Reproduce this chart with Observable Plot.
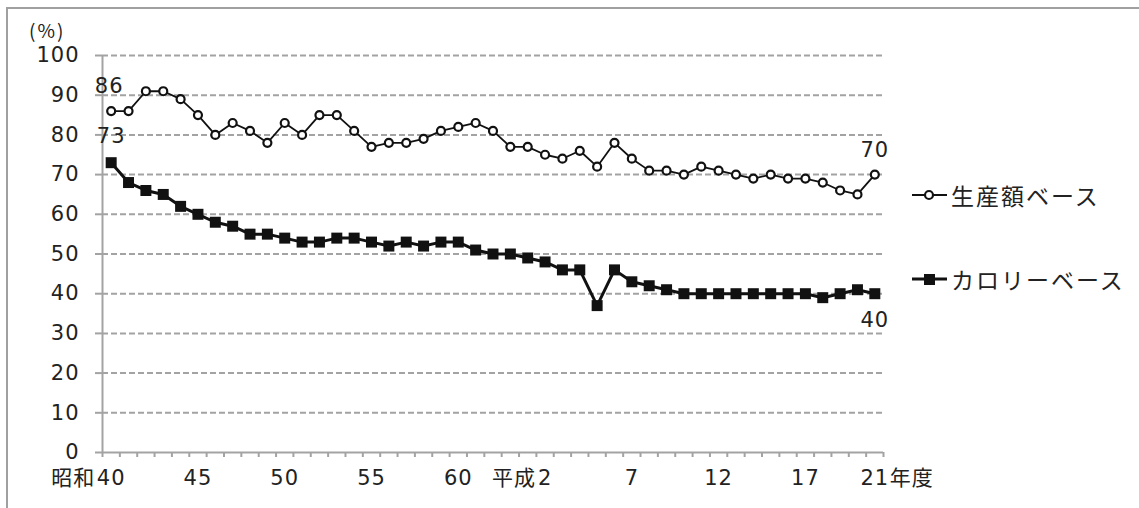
<!DOCTYPE html>
<html>
<head>
<meta charset="utf-8">
<script src="https://cdn.jsdelivr.net/npm/d3@7"></script>
<script src="https://cdn.jsdelivr.net/npm/@observablehq/plot@0.6"></script>
<style>
  html, body { margin: 0; padding: 0; background: #fff; overflow: hidden; }
  body { width: 1139px; height: 508px; position: relative; font-family: "DejaVu Sans", "Noto Sans CJK JP", sans-serif; color: #222; }
  #frame { position: absolute; left: 6px; top: 7px; width: 1200px; height: 600px; border: 2px solid #a0a0a0; }
  #chart { position: absolute; left: 0; top: 0; }
  #chart svg text { letter-spacing: 1px; }
  #unit { position: absolute; left: 29px; top: 16px; font-size: 19px; letter-spacing: 2px; font-family: "Noto Sans CJK JP", sans-serif; }
  .leg { position: absolute; font-size: 23px; letter-spacing: 2px; display: flex; align-items: center; white-space: nowrap; font-family: "Noto Sans CJK JP", sans-serif; }
  .leg svg { margin-right: 2px; }
</style>
</head>
<body>
<div id="frame"></div>
<div id="chart"></div>
<div id="unit">(%)</div>
<div class="leg" style="left:911px; top:178px;">
  <svg width="38" height="30"><line x1="1" x2="36" y1="15" y2="15" stroke="#111" stroke-width="2"/><circle cx="18" cy="15" r="4" fill="#fff" stroke="#111" stroke-width="2.2"/></svg><span>生産額ベース</span>
</div>
<div class="leg" style="left:911px; top:262px;">
  <svg width="38" height="30"><line x1="1" x2="36" y1="15" y2="15" stroke="#111" stroke-width="3"/><rect x="13" y="10" width="11" height="11" fill="#111"/></svg><span>カロリーベース</span>
</div>
<script>
// Fiscal years 昭和40 (1965) … 平成21 (2009)
const years = d3.range(1965, 2010);
const productionBase = [86,86,91,91,89,85,80,83,81,78,83,80,85,85,81,77,78,78,79,81,82,83,81,77,77,75,74,76,72,78,74,71,71,70,72,71,70,69,70,69,69,68,66,65,70];
const calorieBase    = [73,68,66,65,62,60,58,57,55,55,54,53,53,54,54,53,52,53,52,53,53,51,50,50,49,48,46,46,37,46,43,42,41,40,40,40,40,40,40,40,40,39,40,41,40];
const yTicks = [0,10,20,30,40,50,60,70,80,90,100];
const xLabelIdx    = [0, 5, 10, 15, 20, 25, 30, 35, 40, 44];
const xLabelNum    = ["40","45","50","55","60","2","7","12","17","21"];
const xLabelPrefix = ["昭和","","","","","平成","","","",""];
const xLabelSuffix = ["","","","","","","","","","年度"];

const prod = years.map((y, i) => ({i, v: productionBase[i]}));
const cal  = years.map((y, i) => ({i, v: calorieBase[i]}));
const xLab = xLabelIdx.map((idx, k) => ({i: idx, num: xLabelNum[k], pre: xLabelPrefix[k], suf: xLabelSuffix[k]}));
const first = 0, last = years.length - 1;

const grey = "#a3a3a3";
const fs = 21;
const cjk = '"Noto Sans CJK JP", sans-serif';
const lblDy = 32;

const chart = Plot.plot({
  width: 1139,
  height: 508,
  marginLeft: 102,
  marginRight: 256,
  marginTop: 55,
  marginBottom: 56,
  style: {fontFamily: '"DejaVu Sans", "Noto Sans CJK JP", sans-serif', background: "transparent", color: "#222"},
  x: {type: "linear", domain: [-0.5, 44.5]},
  y: {type: "linear", domain: [0, 100]},
  marks: [
    Plot.ruleY(yTicks.filter(d => d > 0), {stroke: grey, strokeWidth: 2, strokeDasharray: "6,3"}),
    Plot.axisY({ticks: yTicks, tickSize: 7, tickPadding: 16, stroke: grey, strokeWidth: 2, fill: "#222", fontSize: fs, label: null, tickFormat: d => String(d)}),
    Plot.axisX({ticks: d3.range(-0.5, 45, 1), tickSize: 5, stroke: grey, strokeWidth: 2, tickFormat: () => "", label: null}),
    Plot.ruleX([-0.5], {stroke: grey, strokeWidth: 2}),
    Plot.ruleY([0], {stroke: grey, strokeWidth: 2}),
    Plot.line(cal, {x: "i", y: "v", stroke: "#111", strokeWidth: 3}),
    Plot.dot(cal, {x: "i", y: "v", symbol: "square", r: 6.2, fill: "#111", stroke: "none"}),
    Plot.line(prod, {x: "i", y: "v", stroke: "#111", strokeWidth: 1.8}),
    Plot.dot(prod, {x: "i", y: "v", r: 4, fill: "#fff", stroke: "#111", strokeWidth: 2.2}),
    // end-point value labels
    Plot.text([prod[first]], {x: "i", y: "v", dx: -2, dy: -25, text: d => String(d.v), fontSize: fs, fill: "#222"}),
    Plot.text([cal[first]],  {x: "i", y: "v", dy: -26, text: d => String(d.v), fontSize: fs, fill: "#222"}),
    Plot.text([prod[last]],  {x: "i", y: "v", dy: -24, text: d => String(d.v), fontSize: fs, fill: "#222"}),
    Plot.text([cal[last]],   {x: "i", y: "v", dy: 27,  text: d => String(d.v), fontSize: fs, fill: "#222"}),
    // x tick labels: number centred on the year, era prefix / unit suffix beside it
    Plot.text(xLab, {x: "i", frameAnchor: "bottom", dy: lblDy, text: "num", fontSize: fs, fill: "#222"}),
    Plot.text(xLab.filter(d => d.pre && d.num.length === 2), {x: "i", frameAnchor: "bottom", dy: lblDy, dx: -16, text: "pre", textAnchor: "end", fontSize: fs, fontFamily: cjk, fill: "#222"}),
    Plot.text(xLab.filter(d => d.pre && d.num.length === 1), {x: "i", frameAnchor: "bottom", dy: lblDy, dx: -9, text: "pre", textAnchor: "end", fontSize: fs, fontFamily: cjk, fill: "#222"}),
    Plot.text(xLab.filter(d => d.suf), {x: "i", frameAnchor: "bottom", dy: lblDy, dx: 15, text: "suf", textAnchor: "start", fontSize: fs, fontFamily: cjk, fill: "#222"})
  ]
});
document.getElementById("chart").appendChild(chart);
</script>
</body>
</html>
